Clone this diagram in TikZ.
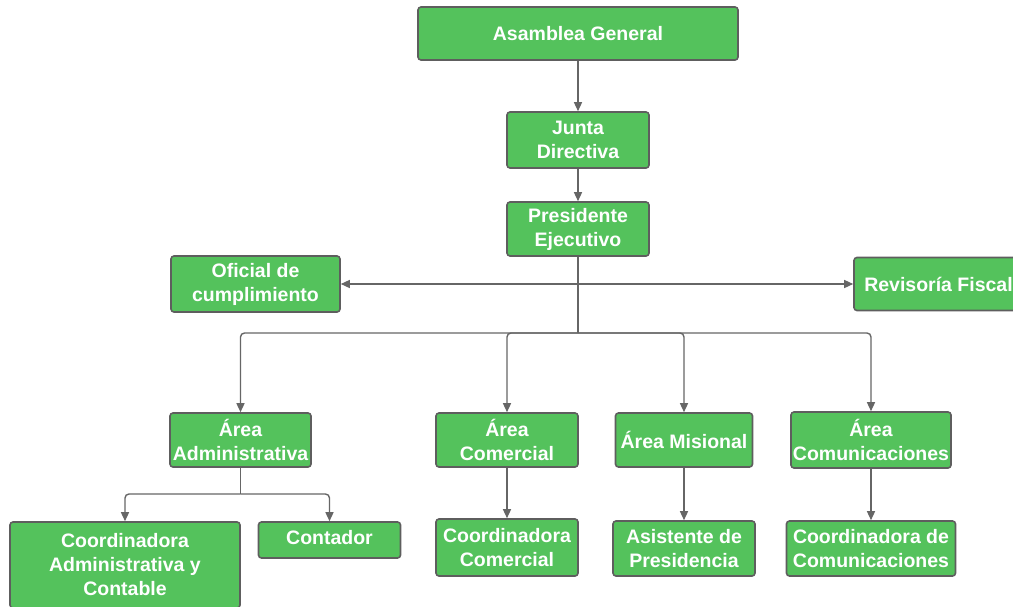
\documentclass[tikz,border=0pt]{standalone}
\usepackage{fontspec}
\setmainfont{Liberation Sans}
\usetikzlibrary{arrows.meta}
\definecolor{boxgreen}{HTML}{54C25C}
\definecolor{boxedge}{HTML}{5E5E5E}
\definecolor{linegray}{HTML}{666666}
\tikzset{
  orgbox/.style={draw=boxedge, line width=1.6pt, fill=boxgreen, rounded corners=3pt,
    inner sep=0pt, align=center, text=white,
    font=\fontsize{19.5}{24}\selectfont\bfseries},
  conn/.style={draw=linegray, line width=1.4pt},
  arr/.style={conn, -{Triangle[width=8pt,length=9pt]}},
  darr/.style={conn, {Triangle[width=8pt,length=9pt]}-{Triangle[width=8pt,length=9pt]}}
}
\begin{document}
\begin{tikzpicture}[x=1pt,y=-1pt]
\useasboundingbox (0,0) rectangle (1013,606);
\clip (0,0) rectangle (1013,606);
\fill[white] (0,0) rectangle (1013,606);
\node[orgbox, minimum width=320pt, minimum height=53pt] (ag) at (578,33.5) {Asamblea General};
\node[orgbox, minimum width=142pt, minimum height=56pt] (jd) at (578,140) {Junta\\Directiva};
\node[orgbox, minimum width=142pt, minimum height=54pt] (pe) at (578,229) {Presidente\\Ejecutivo};
\node[orgbox, minimum width=169pt, minimum height=56pt] (oc) at (255.5,284) {Oficial de\\cumplimiento};
\node[orgbox, minimum width=169pt, minimum height=53pt] (rf) at (938.5,284) {Revisoría Fiscal};
\node[orgbox, minimum width=141pt, minimum height=54pt] (aa) at (240.5,440) {Área\\Administrativa};
\node[orgbox, minimum width=142pt, minimum height=54pt] (ac) at (507,440) {Área\\Comercial};
\node[orgbox, minimum width=137pt, minimum height=54pt] (am) at (684,440) {Área Misional};
\node[orgbox, minimum width=160pt, minimum height=56pt] (aco) at (871,440) {Área\\Comunicaciones};
\node[orgbox, minimum width=230pt, minimum height=86pt] (caj) at (125,565) {Coordinadora\\Administrativa y\\Contable};
\node[orgbox, minimum width=142pt, minimum height=36pt, text depth=6pt] (cont) at (329.5,540) {Contador};
\node[orgbox, minimum width=142pt, minimum height=57pt] (cc) at (507,547.5) {Coordinadora\\Comercial};
\node[orgbox, minimum width=142pt, minimum height=55pt] (asp) at (684,548.5) {Asistente de\\Presidencia};
\node[orgbox, minimum width=169pt, minimum height=55pt] (ccom) at (871,548.5) {Coordinadora de\\Comunicaciones};

\coordinate (b1) at (578,333);
\coordinate (b2) at (240.5,494);

\draw[arr] (ag.south) -- (jd.north);
\draw[arr] (jd.south) -- (pe.north);
\draw[darr] (oc.east) -- (rf.west);
\draw[conn] (pe.south) -- (b1);
\draw[arr, rounded corners=4pt] (b1) -| (aa.north);
\draw[arr, rounded corners=4pt] (b1) -| (ac.north);
\draw[arr, rounded corners=4pt] (b1) -| (am.north);
\draw[arr, rounded corners=4pt] (b1) -| (aco.north);
\draw[conn] (aa.south) -- (b2);
\draw[arr, rounded corners=4pt] (b2) -| (caj.north);
\draw[arr, rounded corners=4pt] (b2) -| (cont.north);
\draw[arr] (ac.south) -- (cc.north);
\draw[arr] (am.south) -- (asp.north);
\draw[arr] (aco.south) -- (ccom.north);
\end{tikzpicture}
\end{document}
